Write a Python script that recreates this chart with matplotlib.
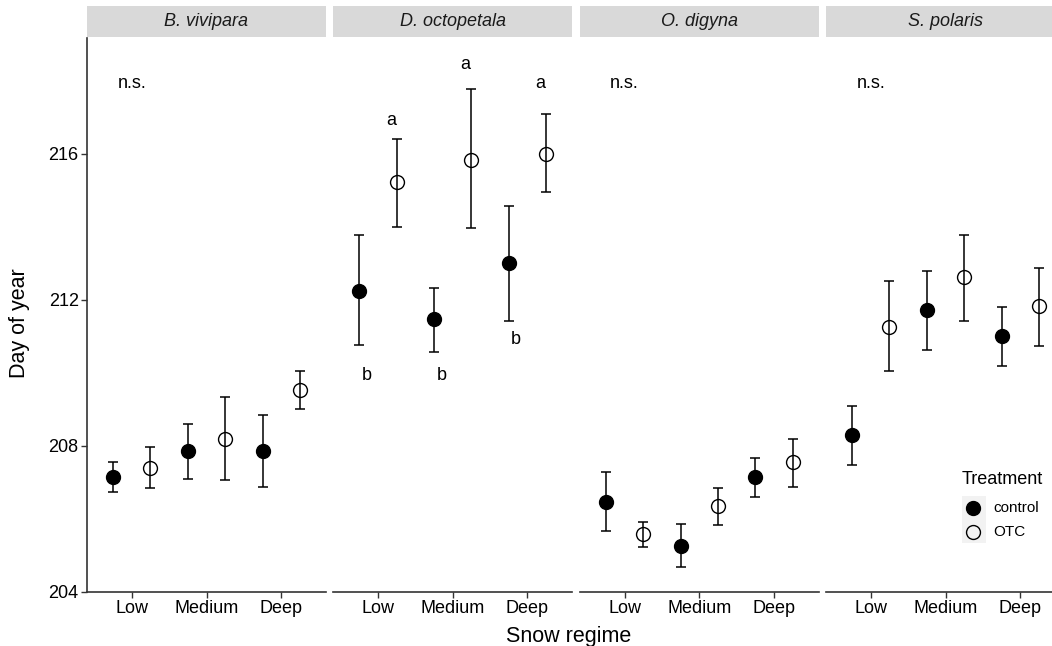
import numpy as np
import matplotlib.pyplot as plt
from matplotlib.patches import Rectangle
from matplotlib.lines import Line2D

plt.rcParams['font.family'] = ['Liberation Sans', 'DejaVu Sans']

# data
species = ['B. vivipara', 'D. octopetala', 'O. digyna', 'S. polaris']
regimes = ['Low', 'Medium', 'Deep']

ctrl_mean = [[207.14, 207.85, 207.85], [212.25, 211.47, 213.00],
             [206.45, 205.26, 207.14], [208.28, 211.72, 211.00]]
ctrl_lo = [[206.72, 207.10, 206.86], [210.76, 210.57, 211.42],
           [205.65, 204.68, 206.59], [207.48, 210.62, 210.19]]
ctrl_hi = [[207.54, 208.60, 208.85], [213.76, 212.32, 214.56],
           [207.28, 205.85, 207.67], [209.08, 212.80, 211.81]]

otc_mean = [[207.40, 208.19, 209.53], [215.22, 215.84, 216.00],
            [205.57, 206.34, 207.54], [211.25, 212.62, 211.83]]
otc_lo = [[206.84, 207.06, 209.00], [213.99, 213.96, 214.94],
          [205.23, 205.82, 206.87], [210.04, 211.42, 210.73]]
otc_hi = [[207.96, 209.33, 210.06], [216.41, 217.76, 217.08],
          [205.90, 206.84, 208.19], [212.50, 213.78, 212.88]]

# significance labels
ns_species = ['B. vivipara', 'O. digyna', 'S. polaris']
ns_y = 217.8
ctrl_letters = ['b', 'b', 'b']
ctrl_letter_y = [209.80, 209.80, 210.80]
otc_letters = ['a', 'a', 'a']
otc_letter_y = [216.80, 218.32, 217.81]

W, H = 1052, 646
fig = plt.figure(figsize=(W / 100, H / 100), dpi=100)

panel_left = [87, 333.3, 579.7, 826]
panel_w = 239
top, bottom = 38, 591.7
x = np.arange(1, 4)
dodge = 0.25

axes = []
for i, sp in enumerate(species):
    ax = fig.add_axes([panel_left[i] / W, 1 - bottom / H, panel_w / W, (bottom - top) / H])
    axes.append(ax)

    cm, otm = np.array(ctrl_mean[i]), np.array(otc_mean[i])
    ax.errorbar(x - dodge, cm, yerr=[cm - np.array(ctrl_lo[i]), np.array(ctrl_hi[i]) - cm],
                fmt='none', ecolor='black', elinewidth=1.1, capsize=3.3, capthick=1.1, zorder=2)
    ax.errorbar(x + dodge, otm, yerr=[otm - np.array(otc_lo[i]), np.array(otc_hi[i]) - otm],
                fmt='none', ecolor='black', elinewidth=1.1, capsize=3.3, capthick=1.1, zorder=2)
    ax.plot(x - dodge, cm, 'o', ms=10, mfc='black', mec='black', mew=1, zorder=3)
    ax.plot(x + dodge, otm, 'o', ms=10, mfc='none', mec='black', mew=1, zorder=3)

    if sp in ns_species:
        ax.text(1, ns_y, 'n.s.', ha='center', va='baseline', fontsize=13)
    if sp == 'D. octopetala':
        for j in range(3):
            ax.text(x[j] - 0.15, ctrl_letter_y[j], ctrl_letters[j], ha='center', va='baseline', fontsize=13)
            ax.text(x[j] + 0.17, otc_letter_y[j], otc_letters[j], ha='center', va='baseline', fontsize=13)

    ax.set_xlim(0.4, 3.6)
    ax.set_ylim(204, 219.17)
    ax.set_xticks(x)
    ax.set_xticklabels(regimes, fontsize=13)
    ax.set_yticks([204, 208, 212, 216])
    ax.tick_params(colors='#333333', labelcolor='black', length=4, width=1, pad=2, labelsize=13)
    for s in ['top', 'right']:
        ax.spines[s].set_visible(False)
    ax.spines['bottom'].set_color('#333333')
    ax.spines['left'].set_color('#333333')
    ax.spines['bottom'].set_linewidth(1.2)
    ax.spines['left'].set_linewidth(1.2)
    if i > 0:
        ax.spines['left'].set_visible(False)
        ax.tick_params(axis='y', left=False, labelleft=False)

    # facet strip
    strip = fig.add_axes([panel_left[i] / W, 1 - 37 / H, panel_w / W, 31 / H])
    strip.set_facecolor('#D9D9D9')
    strip.set_xticks([])
    strip.set_yticks([])
    for s in strip.spines.values():
        s.set_visible(False)
    strip.text(0.5, 0.5, sp, ha='center', va='center', fontsize=13, style='italic',
               color='#1A1A1A', transform=strip.transAxes)

fig.text(20 / W, 1 - 323 / H, 'Day of year', rotation=90, ha='center', va='center', fontsize=15.5)
fig.text(569 / W, 1 - 642 / H, 'Snow regime', ha='center', va='baseline', fontsize=15.5)

# legend
fig.patches.append(Rectangle((962 / W, 1 - 543 / H), 24 / W, 47 / H, transform=fig.transFigure,
                             facecolor='#F2F2F2', edgecolor='none', zorder=0))
fig.text(962 / W, 1 - 480 / H, 'Treatment', ha='left', va='center', fontsize=13)
handles = [Line2D([], [], ls='none', marker='o', ms=10, mfc='black', mec='black'),
           Line2D([], [], ls='none', marker='o', ms=10, mfc='none', mec='black')]
for h, lab, yy in zip(handles, ['control', 'OTC'], [508, 532]):
    fig.add_artist(Line2D([973 / W], [1 - yy / H], ls='none', marker='o', ms=10,
                          mfc=h.get_markerfacecolor(), mec='black', transform=fig.transFigure))
    fig.text(993 / W, 1 - yy / H, lab, ha='left', va='center', fontsize=11)

fig.savefig('out.png', dpi=100)
